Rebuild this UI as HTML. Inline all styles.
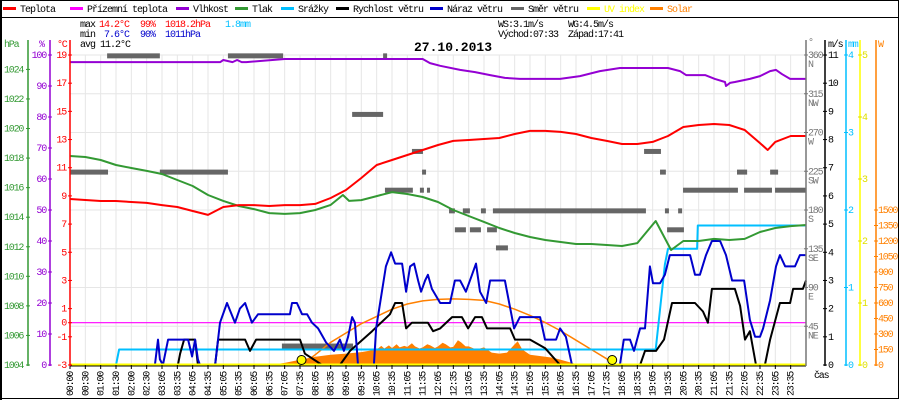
<!DOCTYPE html>
<html><head><meta charset="utf-8"><style>
html,body{margin:0;padding:0;background:#fff;width:900px;height:400px;overflow:hidden}
svg{display:block;font-family:"Liberation Mono","DejaVu Sans Mono",monospace}
</style></head><body>
<svg id="chart" width="900" height="400" viewBox="0 0 900 400" xmlns="http://www.w3.org/2000/svg">
<rect x="0.5" y="0.5" width="898" height="398" fill="#fff" stroke="#000"/>
<rect x="0" y="0" width="2" height="400" fill="#000"/>
<line x1="0" y1="17.5" x2="898" y2="17.5" stroke="#000"/>
<g id="legend" font-size="10" letter-spacing="-1"></g>
<g font-size="10" letter-spacing="-1">
<text x="80" y="27" fill="#000">max</text>
<text x="99" y="27" fill="#f00">14.2°C</text>
<text x="140" y="27" fill="#f00">99%</text>
<text x="165" y="27" fill="#f00">1018.2hPa</text>
<text x="225" y="27" fill="#00bfff">1.8mm</text>
<text x="80" y="37" fill="#000">min</text>
<text x="104" y="37" fill="#00c">7.6°C</text>
<text x="140" y="37" fill="#00c">90%</text>
<text x="165" y="37" fill="#00c">1011hPa</text>
<text x="80" y="47" fill="#000">avg 11.2°C</text>
<text x="498" y="27" fill="#000">WS:3.1m/s</text>
<text x="568" y="27" fill="#000">WG:4.5m/s</text>
<text x="498" y="37" fill="#000">Východ:07:33</text>
<text x="568" y="37" fill="#000">Západ:17:41</text>
</g>
<text x="414" y="51" font-size="13" font-weight="bold" fill="#000">27.10.2013</text>
<g id="grid"></g>
<g id="series"></g>
<g id="axes" font-size="10" letter-spacing="-1.2"></g>
</svg>
<script>
// ---- data ----
const xLabels = ["00:00","00:30","01:00","01:30","02:00","02:30","03:05","03:35","04:05","04:35","05:05","05:35","06:05","06:35","07:05","07:35","08:05","08:35","09:05","09:35","10:05","10:35","11:05","11:35","12:05","12:35","13:05","13:35","14:05","14:35","15:05","15:35","16:05","16:35","17:05","17:35","18:05","18:35","19:05","19:35","20:05","20:35","21:05","21:35","22:05","22:35","23:05","23:35"];
const tempTimes = [0,0.5,1,1.5,2,2.5,3,3.5,4,4.5,5,5.5,6,6.5,7,7.5,8,8.5,9,9.5,10,10.5,11,11.5,12,12.5,13,13.5,14,14.5,15,15.5,16,16.5,17,17.5,18,18.5,19,19.5,20,20.5,21,21.5,22,22.5,22.75,23,23.5,24];
const tempValues = [8.78,8.71,8.64,8.64,8.57,8.50,8.35,8.21,7.93,7.65,8.21,8.35,8.35,8.28,8.35,8.35,8.43,8.85,9.42,10.27,11.19,11.55,11.90,12.26,12.61,12.90,12.97,13.04,13.11,13.39,13.61,13.61,13.54,13.39,13.11,12.90,12.68,12.68,12.83,13.25,13.89,14.03,14.10,14.03,13.68,12.75,12.26,12.83,13.25,13.25];
const dewValue = 0;
const humTimes = [0,4.9,5.0,5.3,5.45,5.6,5.75,7.0,11.5,11.74,12.07,12.72,13.21,13.7,14.18,14.67,15.98,16.63,17.28,17.93,19.5,19.89,20.09,20.71,21.03,21.36,21.39,21.52,21.68,22.17,22.5,22.83,23.02,23.22,23.48,24];
const humValues = [97.7,97.7,98.4,97.7,98.4,97.7,97.7,98.7,98.7,97.4,96.5,95.2,94.5,93.5,92.6,92.3,92.3,93.2,94.8,95.8,95.8,94.8,93.5,93.5,92.3,91.3,90.0,91.0,91.3,92.3,93.2,94.8,95.2,93.8,92.3,92.3];
const presTimes = [0,0.5,1,1.5,2,2.5,3,3.5,4,4.5,5,5.5,6,6.5,7,7.5,8,8.5,8.9,9.1,9.5,10,10.5,11,11.5,12,12.5,13,13.5,14,14.5,15,15.5,16,16.5,17,17.5,18,18.5,19.1,19.6,20,20.5,21,21.5,22,22.5,23,23.5,24];
const presValues = [1018.14,1018.07,1017.87,1017.53,1017.33,1017.13,1016.92,1016.52,1016.11,1015.50,1015.10,1014.76,1014.55,1014.28,1014.22,1014.28,1014.49,1014.83,1015.50,1015.10,1015.16,1015.43,1015.70,1015.57,1015.37,1015.03,1014.49,1014.08,1013.68,1013.27,1012.93,1012.66,1012.46,1012.32,1012.19,1012.19,1012.12,1012.05,1012.25,1013.74,1011.78,1012.39,1012.39,1012.53,1012.46,1012.53,1013.00,1013.27,1013.40,1013.47];
const rainTimes = [0,1.5,1.6,19.1,19.4,19.5,20.45,20.47,24];
const rainValues = [0,0,0.2,0.2,1.3,1.5,1.5,1.8,1.8];
const speedTimes = [0,3.52,3.59,3.72,4.08,4.17,4.73,4.83,5.71,5.87,6.07,7.5,7.66,8.22,8.8,9.13,9.85,10.43,10.6,10.83,10.96,11.15,11.67,11.84,12.07,12.46,12.78,12.98,13.21,13.43,13.6,14.35,14.51,15.0,15.49,15.98,18.59,18.75,19.11,19.37,19.63,20.38,20.64,20.8,20.93,21.68,21.85,22.01,22.17,22.37,22.66,22.83,23.15,23.48,23.58,23.9,24];
const speedValues = [0,0,0.4,0.9,0.9,0,0,0.9,0.9,0.5,0.9,0.9,0.4,0,0,0.5,1.2,1.8,2.2,2.2,1.3,1.5,1.5,1.2,1.3,1.7,1.7,1.3,1.7,1.7,1.3,1.3,0.9,0.9,0.6,0,0,0.5,0.5,0.9,2.2,2.2,1.9,1.5,2.7,2.7,2.1,0.9,1.2,0,0,0.9,2.2,2.2,2.7,2.7,3.0];
const gustTimes = [0,2.77,2.87,2.93,3.03,3.2,3.85,3.98,4.08,4.17,4.24,4.73,4.89,5.12,5.38,5.54,5.71,5.93,6.13,7.17,7.24,7.4,7.57,7.73,7.89,8.09,8.35,8.61,8.8,8.93,9.07,9.2,9.29,9.39,9.91,9.98,10.17,10.3,10.47,10.6,10.83,10.96,11.09,11.22,11.35,11.45,11.58,11.67,11.8,12.07,12.39,12.55,12.72,12.91,13.11,13.24,13.37,13.57,13.7,14.18,14.32,14.48,14.67,15.33,15.49,15.85,15.98,16.17,16.37,17.93,18.06,18.26,18.39,18.59,18.75,18.91,19.01,19.24,19.4,19.56,20.22,20.38,20.54,20.74,20.93,21.2,21.39,21.59,21.98,22.17,22.34,22.5,22.6,22.83,23.02,23.15,23.32,23.64,23.8,24];
const gustValues = [0,0,0.9,0.2,0,0.9,0.9,0.3,0.9,0.2,0,0,1.5,2.2,1.5,2.0,2.2,1.5,1.8,1.8,2.2,2.2,1.8,1.8,1.5,1.3,0.8,0.5,0.9,0.5,1.0,1.7,1.5,0,0,1.3,2.6,3.5,4.0,3.6,3.6,2.6,3.5,3.6,3.0,2.6,3.0,3.2,2.7,2.2,2.2,3.0,3.0,2.6,3.2,3.6,2.6,2.2,3.0,3.0,2.2,1.3,1.7,1.7,0.9,0.9,1.3,1.0,0,0,0.9,0.9,0.5,1.3,1.3,3.5,2.9,2.9,3.2,3.9,3.9,3.2,3.2,3.9,4.4,4.4,3.9,3.0,3.0,1.6,1.0,1.0,1.3,2.3,3.5,3.9,3.5,3.5,3.9,3.9];
const solarTimes = [6.5,7,7.5,8,8.5,9,9.5,10,10.15,10.25,10.4,10.5,10.65,10.75,10.9,11,11.15,11.25,11.4,11.5,11.65,11.75,11.9,12,12.15,12.25,12.4,12.5,12.65,12.75,12.9,13,13.25,13.5,13.75,14,14.25,14.5,14.6,14.75,15,15.25,15.5,15.75,16,16.25,16.5,16.75];
const solarValues = [0,20,50,80,100,110,125,150,185,160,190,165,200,170,185,175,210,180,160,170,200,190,165,180,215,200,170,175,240,220,180,180,150,170,120,110,120,200,230,150,100,90,80,70,50,30,10,0];
const theoTimes = [7.55,8,8.5,9,9.5,10,10.5,11,11.5,12,12.5,13,13.5,14,14.5,15,15.5,16,16.5,17,17.5,17.68];
const theoValues = [0,100,220,310,400,470,540,590,620,635,640,635,625,590,540,480,410,330,240,150,60,0];
const dirStart = [0,1.21,2.93,5.15,10.21,9.2,11.15,10.27,11.41,11.64,11.48,12.36,12.81,13.4,13.79,19.4,19.83,12.55,13.04,13.6,19.47,13.89,18.72,19.24,21.75,22.83,19.99,21.98,22.99,6.91];
const dirEnd   = [1.24,2.93,5.15,6.95,10.34,10.21,11.51,11.18,11.54,11.74,11.61,12.55,13.04,13.56,18.78,19.53,19.96,12.91,13.4,13.92,20.02,14.28,19.27,19.43,22.08,23.09,21.78,22.89,24,9.23];
const dirValues = [224,359,224,359,359,291,248,203,203,203,224,179,179,179,179,179,179,157,157,157,157,136,248,224,224,224,203,203,203,22];
const sunEvents = [7.55,17.68];
const legendNames = ["Teplota","Přízemní teplota","Vlhkost","Tlak","Srážky","Rychlost větru","Náraz větru","Směr větru","UV index","Solar"];
const legendColors = ["#ff0000","#ff00ff","#9400d3","#339933","#00bfff","#000000","#0000cc","#666666","#ffff00","#ff8000"];
const legendX = [3,70,176,235,281,336,430,511,587,650];

// ---- scales ----
const X = t => 70 + t * 30.667;
const yC = c => 55 + (19 - c) * 14.09;
const yPct = p => 365 - p * 3.1;
const yHpa = h => 365 - (h - 1004) * 14.78;
const yMs = v => 365 - v * 28.18;
const yMm = m => 365 - m * 77.5;
const yDir = d => 365 - d * 310 / 360;
const yW = w => 365 - w * 0.10333;
const yUv = u => 365 - u * 62;

const NS = "http://www.w3.org/2000/svg";
function mk(tag, parent, attrs) {
  const e = document.createElementNS(NS, tag);
  for (const k in attrs) e.setAttribute(k, attrs[k]);
  parent.appendChild(e);
  return e;
}
const grid = document.getElementById("grid");
const series = document.getElementById("series");
const axes = document.getElementById("axes");
const legend = document.getElementById("legend");

legendNames.forEach((n, i) => {
  const r = mk("rect", legend, {x: legendX[i], y: 7, width: 13, height: 3, fill: legendColors[i]});
  
  
  const t = mk("text", legend, {x: legendX[i] + 17, y: 12, fill: (i === 8 || i === 9) ? legendColors[i] : "#000"});
  t.textContent = n;
  
  
});

xLabels.forEach((lab, i) => {
  const gx = 70 + i * 15.333;
  const l = mk("line", grid, {x1: gx, y1: 55, x2: gx, y2: 365, stroke: "#e6e6e6", "stroke-width": 1});
  
  
  const tk = mk("line", axes, {x1: gx, y1: 365, x2: gx, y2: 369, stroke: "#000"});
  
  
  const tx = mk("text", axes, {x: 0, y: 0, fill: "#000", transform: `translate(${gx + 3},396) rotate(-90)`});
  tx.textContent = lab;
  
  
});
const dirTicks = [45,90,135,180,225,270,315,360];
const dirNames = ["NE","E","SE","S","SW","W","NW","N"];
dirTicks.forEach(d => {
  const l = mk("line", grid, {x1: 70, y1: yDir(d), x2: 806, y2: yDir(d), stroke: "#e6e6e6"});
  
  
});

function poly(times, vals, yf, color, w) {
  const pts = times.map((t, i) => X(t).toFixed(1) + "," + yf(vals[i]).toFixed(1)).join(" ");
  return mk("polyline", series, {points: pts, fill: "none", stroke: color, "stroke-width": w, "stroke-linejoin": "round"});
}
{
  const pts = solarTimes.map((t, i) => X(t).toFixed(1) + "," + yW(solarValues[i]).toFixed(1));
  pts.push(X(solarTimes[solarTimes.length - 1]).toFixed(1) + ",365");
  pts.unshift(X(solarTimes[0]).toFixed(1) + ",365");
  const p = mk("polygon", series, {points: pts.join(" "), fill: "#ff8000"});
  
  
}
dirValues.forEach((d, i) => {
  const r = mk("rect", series, {x: X(dirStart[i]), y: yDir(d) - 2.5, width: Math.max(3, X(dirEnd[i]) - X(dirStart[i])), height: 5, fill: "#666"});
  
  
});
{
  const dl = mk("line", series, {x1: 70, y1: yC(dewValue), x2: 806, y2: yC(dewValue), stroke: "#ff00ff", "stroke-width": 1.2});
  
  
}
let s;
s = poly(theoTimes, theoValues, yW, "#ff8000", 1.5);


s = poly(rainTimes, rainValues, yMm, "#00bfff", 2);


s = poly(speedTimes, speedValues, yMs, "#000", 2);


s = poly(gustTimes, gustValues, yMs, "#0000cc", 2);


s = poly(presTimes, presValues, yHpa, "#339933", 2);


s = poly(tempTimes, tempValues, yC, "#ff0000", 2);


s = poly(humTimes, humValues, yPct, "#9400d3", 2);


{
  const b = mk("line", series, {x1: 70, y1: 366, x2: 806, y2: 366, stroke: "#000", "stroke-width": 1});
  
  
  const u = mk("line", series, {x1: 70, y1: 364.5, x2: 806, y2: 364.5, stroke: "#ffff00", "stroke-width": 2});
  
  
}
sunEvents.forEach(t => {
  const c = mk("circle", series, {cx: X(t), cy: 360, r: 4.5, fill: "#ffff00", stroke: "#000", "stroke-width": 1});
  
  
});

function vaxis(x, color) {
  return mk("line", axes, {x1: x, y1: 40, x2: x, y2: 366, stroke: color, "stroke-width": 1.5});
}
function lab(x, y, txt, color, anchor) {
  const t = mk("text", axes, {x: x, y: y, fill: color, "text-anchor": anchor || "start"});
  t.textContent = txt;
  return t;
}
let a, t;
a = vaxis(28, "#339933");  
a = vaxis(50, "#9400d3");  
a = vaxis(70, "#ff0000");  
a = vaxis(806, "#777");  
a = vaxis(825, "#000");  
a = vaxis(846, "#00bfff");  
a = vaxis(860, "#ffff00");  
a = vaxis(876, "#ff8000");  

t = lab(4, 47, "hPa", "#339933");  
t = lab(39, 47, "%", "#9400d3");  
t = lab(57, 47, "°C", "#ff0000");  
t = lab(808, 45, "°", "#777");  
t = lab(828, 47, "m/s", "#000");  
t = lab(848, 47, "mm", "#00bfff");  
t = lab(878, 47, "W", "#ff8000");  
t = lab(814, 378, "čas", "#000");  

function tick(x, y, color) {
  return mk("line", axes, {x1: x - 2, y1: y, x2: x + 2, y2: y, stroke: color});
}
const hpaTicks = [1004,1006,1008,1010,1012,1014,1016,1018,1020,1022,1024];
hpaTicks.forEach(v => {
  const l = tick(28, yHpa(v), "#339933");  
  const tt = lab(4, yHpa(v) + 3, String(v), "#339933");  
});
const pctTicks = [0,10,20,30,40,50,60,70,80,90,100];
pctTicks.forEach(v => {
  const l = tick(50, yPct(v), "#9400d3");  
  const tt = lab(46, yPct(v) + 3, String(v), "#9400d3", "end");  
});
const cTicks = [19,17,15,13,11,9,7,5,3,1,0,-1,-3];
cTicks.forEach(v => {
  const l = tick(70, yC(v), "#ff0000");  
  const tt = lab(66, yC(v) + 3, String(v), "#ff0000", "end");  
});
dirTicks.forEach((v, i) => {
  const l = tick(806, yDir(v), "#777");  
  const tt = lab(808, yDir(v) + 3, String(v), "#777");  
  const tn = lab(808, yDir(v) + 12, dirNames[i], "#777");  
});
const msTicks = [0,1,2,3,4,5,6,7,8,9,10,11];
msTicks.forEach(v => {
  const l = tick(825, yMs(v), "#000");  
  const tt = lab(828, yMs(v) + 3, String(v), "#000");  
});
const mmTicks = [0,1,2,3,4];
mmTicks.forEach(v => {
  const l = tick(846, yMm(v), "#00bfff");  
  const tt = lab(848, yMm(v) + 3, String(v), "#00bfff");  
});
const uvTicks = [0,1,2,3,4,5];
uvTicks.forEach(v => {
  const l = tick(860, yUv(v), "#dddd00");  
  const tt = lab(862, yUv(v) + 3, String(v), "#e0e000");  
});
const wTicks = [0,150,300,450,600,750,900,1050,1200,1350,1500];
wTicks.forEach(v => {
  const l = tick(876, yW(v), "#ff8000");  
  const tt = lab(878, yW(v) + 3, String(v), "#ff8000");  
});
</script>
</body></html>
